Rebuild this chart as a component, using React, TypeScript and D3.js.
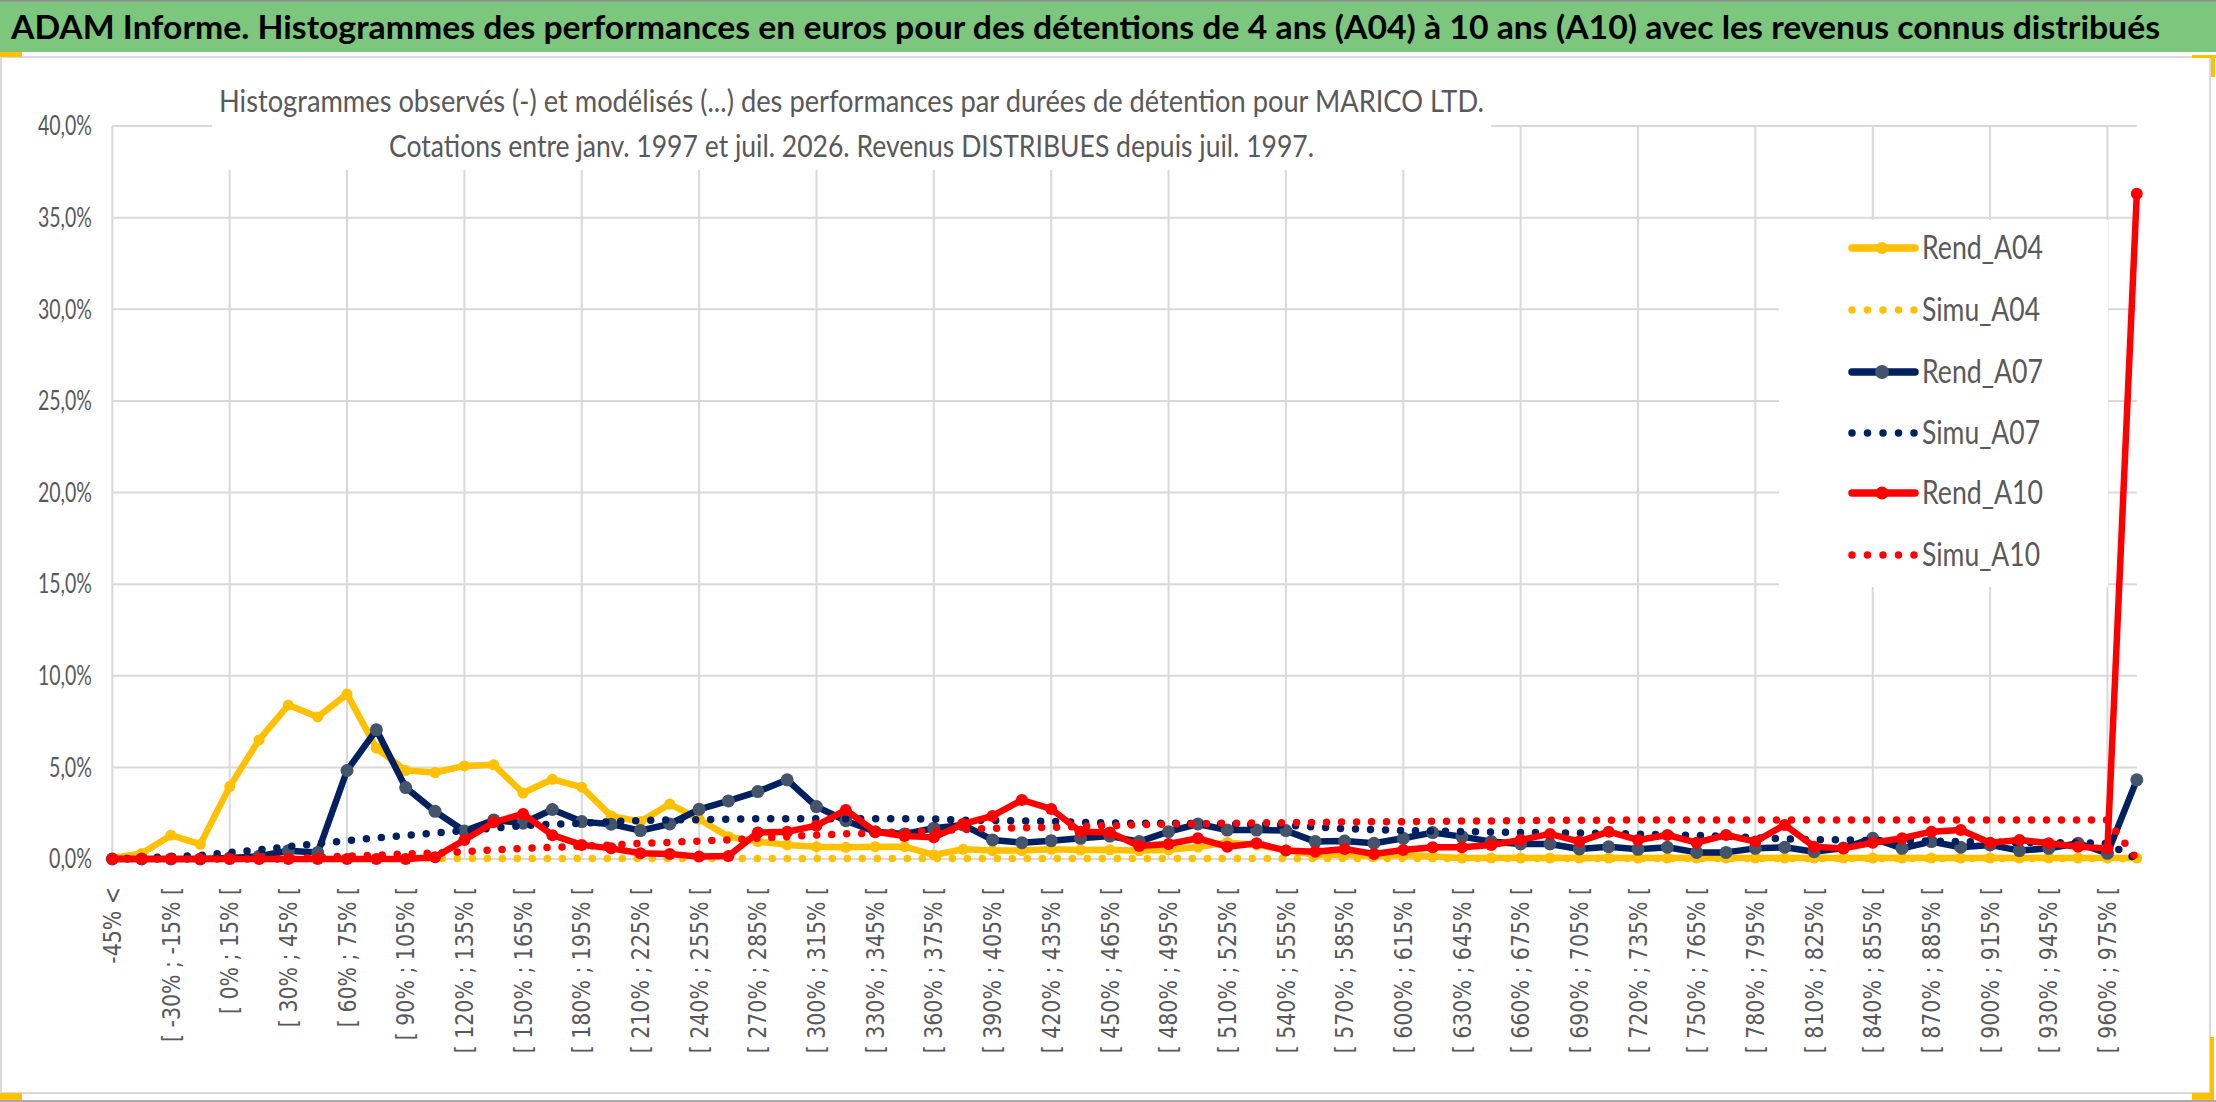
import React from "react";
import * as d3 from "d3";

const CATEGORIES: string[] = [
  "-45% <", "[ -45% ; -30% [", "[ -30% ; -15% [", "[ -15% ; 0% [", "[ 0% ; 15% [",
  "[ 15% ; 30% [", "[ 30% ; 45% [", "[ 45% ; 60% [", "[ 60% ; 75% [", "[ 75% ; 90% [",
  "[ 90% ; 105% [", "[ 105% ; 120% [", "[ 120% ; 135% [", "[ 135% ; 150% [", "[ 150% ; 165% [",
  "[ 165% ; 180% [", "[ 180% ; 195% [", "[ 195% ; 210% [", "[ 210% ; 225% [", "[ 225% ; 240% [",
  "[ 240% ; 255% [", "[ 255% ; 270% [", "[ 270% ; 285% [", "[ 285% ; 300% [", "[ 300% ; 315% [",
  "[ 315% ; 330% [", "[ 330% ; 345% [", "[ 345% ; 360% [", "[ 360% ; 375% [", "[ 375% ; 390% [",
  "[ 390% ; 405% [", "[ 405% ; 420% [", "[ 420% ; 435% [", "[ 435% ; 450% [", "[ 450% ; 465% [",
  "[ 465% ; 480% [", "[ 480% ; 495% [", "[ 495% ; 510% [", "[ 510% ; 525% [", "[ 525% ; 540% [",
  "[ 540% ; 555% [", "[ 555% ; 570% [", "[ 570% ; 585% [", "[ 585% ; 600% [", "[ 600% ; 615% [",
  "[ 615% ; 630% [", "[ 630% ; 645% [", "[ 645% ; 660% [", "[ 660% ; 675% [", "[ 675% ; 690% [",
  "[ 690% ; 705% [", "[ 705% ; 720% [", "[ 720% ; 735% [", "[ 735% ; 750% [", "[ 750% ; 765% [",
  "[ 765% ; 780% [", "[ 780% ; 795% [", "[ 795% ; 810% [", "[ 810% ; 825% [", "[ 825% ; 840% [",
  "[ 840% ; 855% [", "[ 855% ; 870% [", "[ 870% ; 885% [", "[ 885% ; 900% [", "[ 900% ; 915% [",
  "[ 915% ; 930% [", "[ 930% ; 945% [", "[ 945% ; 960% [", "[ 960% ; 975% [", "> 975%",
];

const REND_A04: number[] = [
  0.05, 0.3, 1.3, 0.8, 3.95, 6.5, 8.4, 7.75, 9.0, 6.05,
  4.83, 4.72, 5.08, 5.14, 3.6, 4.35, 3.92, 2.35, 2.04, 3.0,
  2.17, 1.22, 0.95, 0.77, 0.67, 0.64, 0.67, 0.67, 0.22, 0.53,
  0.46, 0.46, 0.53, 0.49, 0.5, 0.45, 0.5, 0.65, 0.9, 0.77,
  0.49, 0.22, 0.25, 0.16, 0.22, 0.13, 0.05, 0.05, 0.05, 0.05,
  0.05, 0.05, 0.05, 0.05, 0.05, 0.05, 0.05, 0.05, 0.05, 0.05,
  0.05, 0.05, 0.05, 0.05, 0.05, 0.05, 0.05, 0.05, 0.05, 0.05,
];

const SIMU_A04: number[] = [
  0.03, 0.03, 0.03, 0.03, 0.03, 0.03, 0.03, 0.03, 0.03, 0.03,
  0.03, 0.03, 0.03, 0.03, 0.03, 0.03, 0.03, 0.03, 0.03, 0.03,
  0.03, 0.03, 0.03, 0.03, 0.03, 0.03, 0.03, 0.03, 0.03, 0.03,
  0.03, 0.03, 0.03, 0.03, 0.03, 0.03, 0.03, 0.03, 0.03, 0.03,
  0.03, 0.03, 0.03, 0.03, 0.03, 0.03, 0.03, 0.03, 0.03, 0.03,
  0.03, 0.03, 0.03, 0.03, 0.03, 0.03, 0.03, 0.03, 0.03, 0.03,
  0.03, 0.03, 0.03, 0.03, 0.03, 0.03, 0.03, 0.03, 0.03, 0.0,
];

const REND_A07: number[] = [
  0, 0, 0, 0, 0.05, 0.15, 0.45, 0.35, 4.83, 7.05,
  3.9, 2.6, 1.53, 2.13, 1.95, 2.7, 2.04, 1.9, 1.55, 1.91,
  2.71, 3.17, 3.68, 4.32, 2.86, 2.09, 1.49, 1.37, 1.68, 1.86,
  1.04, 0.89, 1.0, 1.13, 1.25, 0.95, 1.49, 1.91, 1.58, 1.58,
  1.55, 0.95, 0.98, 0.86, 1.13, 1.44, 1.22, 0.95, 0.82, 0.82,
  0.55, 0.67, 0.53, 0.64, 0.36, 0.36, 0.58, 0.64, 0.4, 0.6,
  1.13, 0.58, 0.95, 0.64, 0.77, 0.46, 0.58, 0.86, 0.31, 4.32,
];

const SIMU_A07: number[] = [
  0, 0.05, 0.13, 0.2, 0.35, 0.5, 0.67, 0.85, 1.0, 1.15,
  1.28, 1.42, 1.55, 1.68, 1.82, 1.9, 1.95, 2.04, 2.1, 2.13,
  2.15, 2.17, 2.2, 2.2, 2.2, 2.2, 2.2, 2.2, 2.18, 2.12,
  2.1, 2.08, 2.05, 2.0, 1.97, 1.95, 1.95, 1.93, 1.9, 1.88,
  1.85, 1.75, 1.65, 1.6, 1.55, 1.52, 1.5, 1.47, 1.45, 1.43,
  1.42, 1.4, 1.35, 1.32, 1.28, 1.25, 1.15, 1.1, 1.05, 1.05,
  1.0, 1.0, 0.98, 0.95, 0.92, 0.9, 0.9, 0.88, 0.85, 0,
];

const REND_A10: number[] = [
  0, 0, 0, 0, 0, 0, 0, 0, 0, 0,
  0, 0.1, 1.04, 2.0, 2.46, 1.3, 0.77, 0.58, 0.31, 0.27,
  0.13, 0.16, 1.44, 1.49, 1.82, 2.68, 1.49, 1.26, 1.18, 1.91,
  2.35, 3.22, 2.73, 1.49, 1.45, 0.71, 0.82, 1.13, 0.67, 0.86,
  0.46, 0.4, 0.55, 0.27, 0.49, 0.64, 0.64, 0.76, 1.04, 1.37,
  0.95, 1.49, 1.04, 1.31, 0.89, 1.31, 0.95, 1.86, 0.67, 0.58,
  0.89, 1.13, 1.49, 1.58, 0.89, 1.04, 0.86, 0.67, 0.58, 36.3,
];

const SIMU_A10: number[] = [
  0, 0, 0, 0, 0, 0, 0, 0.1, 0.15, 0.2,
  0.28, 0.33, 0.4, 0.5, 0.58, 0.64, 0.7, 0.76, 0.86, 0.91,
  0.98, 1.04, 1.13, 1.22, 1.31, 1.37, 1.42, 1.48, 1.55, 1.6,
  1.68, 1.7, 1.73, 1.78, 1.82, 1.87, 1.9, 1.92, 1.95, 1.97,
  1.98, 2.0, 2.02, 2.03, 2.04, 2.06, 2.07, 2.08, 2.1, 2.11,
  2.12, 2.12, 2.13, 2.13, 2.13, 2.13, 2.13, 2.13, 2.13, 2.13,
  2.13, 2.13, 2.13, 2.13, 2.13, 2.13, 2.13, 2.13, 2.13, 0,
];

const Y_TICKS: number[] = [0, 5, 10, 15, 20, 25, 30, 35, 40];
const Y_TICK_LABELS: string[] = ["0,0%", "5,0%", "10,0%", "15,0%", "20,0%", "25,0%", "30,0%", "35,0%", "40,0%"];

const TITLE = "ADAM Informe. Histogrammes des performances en euros pour des détentions de 4 ans (A04) à 10 ans (A10) avec les revenus connus distribués";
const SUB1 = "Histogrammes observés (-) et modélisés (...) des performances par durées de détention pour MARICO LTD.";
const SUB2 = "Cotations entre janv. 1997 et juil. 2026. Revenus DISTRIBUES depuis juil. 1997.";

type Series = {
  name: string;
  values: number[];
  color: string;
  dotted: boolean;
  marker?: string;
  r?: number;
};

const SERIES: Series[] = [
  { name: "Rend_A04", values: REND_A04, color: "#FFC000", dotted: false, marker: "#FFC000", r: 5.5 },
  { name: "Simu_A04", values: SIMU_A04, color: "#FFC000", dotted: true },
  { name: "Rend_A07", values: REND_A07, color: "#002060", dotted: false, marker: "#44546A", r: 6.5 },
  { name: "Simu_A07", values: SIMU_A07, color: "#002060", dotted: true },
  { name: "Rend_A10", values: REND_A10, color: "#FF0000", dotted: false, marker: "#FF0000", r: 6 },
  { name: "Simu_A10", values: SIMU_A10, color: "#FF0000", dotted: true },
];

const W = 2216;
const H = 1102;
const FONT = "Lato, 'Open Sans', 'Noto Sans', sans-serif";
const GRID = "#d9d9d9";
const TXT = "#595959";

export default function App() {
  const idx = d3.range(CATEGORIES.length);
  const x = d3.scalePoint<number>().domain(idx).range([112.3, 2136.8]);
  const y = d3.scaleLinear().domain([0, 40]).range([859, 126]);
  const line = (vals: number[]) =>
    d3.line<number>().x((_, i) => x(i) as number).y((v) => y(v))(vals) || "";

  const legendRows = [248, 310, 372, 433, 493, 555];

  return (
    <div style={{ position: "absolute", left: 0, top: 0 }}>
      <svg width={W} height={H} viewBox={`0 0 ${W} ${H}`} style={{ display: "block" }}>
        <rect x={0} y={0} width={W} height={H} fill="#ffffff" />
        {/* title bar */}
        <rect x={0} y={0} width={W} height={52} fill="#7DC67D" />
        <line x1={0} x2={W} y1={0.75} y2={0.75} stroke="#8c8c8c" strokeWidth={1.5} />
        <text x={11} y={39} fontFamily={FONT} fontWeight={700} fontSize={32} fill="#000"
          textLength={2149} lengthAdjust="spacingAndGlyphs">{TITLE}</text>
        {/* chart frame */}
        <rect x={1} y={57} width={2209} height={1036} fill="#fff" stroke={GRID} strokeWidth={2} />
        <rect x={0} y={52} width={22} height={5} fill="#FFC000" />
        <rect x={0} y={1093} width={22} height={7} fill="#FFC000" />
        <rect x={2192} y={1093} width={22} height={7} fill="#FFC000" />
        <rect x={2210} y={1037} width={4} height={58} fill="#FFC000" />
        <rect x={2192} y={55} width={24} height={3} fill="#FFC000" />
        <rect x={2211} y={55} width={4} height={22} fill="#FFC000" />
        <line x1={0} x2={W} y1={H - 1} y2={H - 1} stroke="#8c8c8c" strokeWidth={1.5} />

        {/* gridlines */}
        {Y_TICKS.map((t) => (
          <line key={"h" + t} x1={x(0)} x2={x(idx.length - 1)} y1={y(t)} y2={y(t)} stroke={GRID} strokeWidth={2} />
        ))}
        {idx.filter((i) => i % 4 === 0).map((i) => (
          <line key={"v" + i} x1={x(i)} x2={x(i)} y1={y(40)} y2={y(0)} stroke={GRID} strokeWidth={2} />
        ))}
        {/* subtitle box */}
        <rect x={212} y={60} width={1279} height={110} fill="#fff" />
        {/* legend box */}
        <rect x={1779} y={220} width={329} height={367} fill="#fff" />

        {/* y labels */}
        {Y_TICKS.map((t, k) => (
          <text key={"yl" + t} x={92} y={y(t)} dy="0.36em" textAnchor="end" fontFamily={FONT} fontSize={26}
            fill={TXT} textLength={Y_TICK_LABELS[k].length > 4 ? 54 : 43} lengthAdjust="spacingAndGlyphs">
            {Y_TICK_LABELS[k]}
          </text>
        ))}

        {/* x labels */}
        {idx.filter((i) => i % 2 === 0).map((i) => (
          <text key={"xl" + i} transform={`translate(${x(i)},887) rotate(-90) scale(0.855,1)`} dy="0.36em" textAnchor="end"
            fontFamily="'DejaVu Sans', sans-serif" fontSize={24} fill={TXT}>
            {CATEGORIES[i]}
          </text>
        ))}

        {/* subtitle */}
        <text x={219} y={112} fontFamily={FONT} fontSize={31.5} fill={TXT} textLength={1265} lengthAdjust="spacingAndGlyphs">{SUB1}</text>
        <text x={389} y={157} fontFamily={FONT} fontSize={31.5} fill={TXT} textLength={925} lengthAdjust="spacingAndGlyphs">{SUB2}</text>

        {/* series */}
        {SERIES.map((s) => (
          <g key={s.name}>
            <path d={line(s.values)} fill="none" stroke={s.color}
              strokeWidth={s.dotted ? 7.5 : 6.5}
              strokeLinecap="round" strokeLinejoin="round"
              strokeDasharray={s.dotted ? "0 15" : undefined} />
            {s.marker && s.values.map((v, i) => (
              <circle key={i} cx={x(i)} cy={y(v)} r={s.r} fill={s.marker} />
            ))}
          </g>
        ))}

        {/* legend */}
        {SERIES.map((s, k) => {
          const ry = legendRows[k];
          return (
            <g key={"lg" + s.name}>
              <line x1={1852} x2={1915} y1={ry} y2={ry} stroke={s.color} strokeWidth={s.dotted ? 7.5 : 7.5}
                strokeLinecap="round" strokeDasharray={s.dotted ? "0 15.5" : undefined} />
              {s.marker && <circle cx={1882} cy={ry} r={(s.r || 6) + 0.5} fill={s.marker} />}
              <text x={1922} y={ry + 11} fontFamily={FONT} fontSize={33} fill={TXT}
                textLength={s.dotted ? 118 : 121} lengthAdjust="spacingAndGlyphs">{s.name}</text>
            </g>
          );
        })}
      </svg>
    </div>
  );
}
